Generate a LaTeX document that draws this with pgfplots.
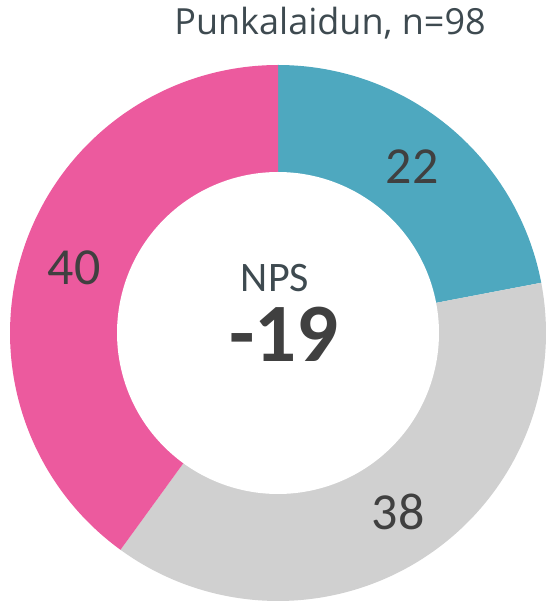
\documentclass[border=0pt]{standalone}
\usepackage{pgfplots}
\pgfplotsset{compat=1.18}
\usepackage{fontspec}
\setmainfont{Carlito}
\newfontfamily\titlefont{Open Sans}
\definecolor{npsblue}{HTML}{4EA8BF}
\definecolor{npsgray}{HTML}{D0D0D0}
\definecolor{npspink}{HTML}{EC5A9E}
\definecolor{txt}{HTML}{404040}
\definecolor{ttl}{HTML}{3E4A50}
\begin{document}
\begin{tikzpicture}
\begin{axis}[
  scale only axis, width=551bp, height=605bp,
  xmin=-278, xmax=273, ymin=-272, ymax=333,
  hide axis, clip=false]
\path (rel axis cs:0,0) rectangle (rel axis cs:1,1);
% slices: promoters 22, passives 38, detractors 40 (percent, clockwise from top)
\addplot[fill=npsblue, draw=none, domain=0:22, samples=80, variable=\t]
  ({268*sin(3.6*\t)},{268*cos(3.6*\t)}) -- (axis cs:0,0) -- cycle;
\addplot[fill=npsgray, draw=none, domain=22:60, samples=120, variable=\t]
  ({268*sin(3.6*\t)},{268*cos(3.6*\t)}) -- (axis cs:0,0) -- cycle;
\addplot[fill=npspink, draw=none, domain=60:100, samples=120, variable=\t]
  ({268*sin(3.6*\t)},{268*cos(3.6*\t)}) -- (axis cs:0,0) -- cycle;
\addplot[fill=white, draw=none, domain=0:100, samples=200, variable=\t]
  ({161*sin(3.6*\t)},{161*cos(3.6*\t)}) -- cycle;
\node[txt, font=\fontsize{52bp}{52bp}\selectfont] at (axis cs:134,166) {22};
\node[txt, font=\fontsize{52bp}{52bp}\selectfont] at (axis cs:120,-179) {38};
\node[txt, font=\fontsize{52bp}{52bp}\selectfont] at (axis cs:-204,65) {40};
\node[ttl, anchor=base, font=\fontsize{42bp}{42bp}\selectfont] at (axis cs:-3,41) {NPS};
\node[txt, anchor=base, font=\fontsize{83bp}{83bp}\selectfont\bfseries] at (axis cs:6,-29) {-19};
\node[ttl, anchor=base, font=\titlefont\fontsize{36bp}{36bp}\selectfont] at (axis cs:52,298) {Punkalaidun, n=98};
\end{axis}
\end{tikzpicture}
\end{document}
